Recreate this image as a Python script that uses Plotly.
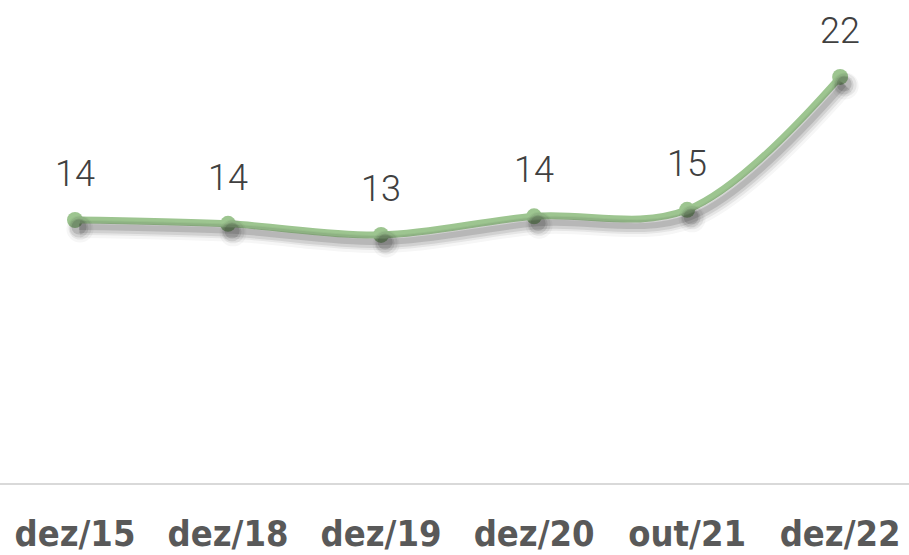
import plotly.graph_objects as go

categories = ["dez/15", "dez/18", "dez/19", "dez/20", "out/21", "dez/22"]
values = [14.25, 14.04, 13.44, 14.45, 14.8, 22.0]
labels = [f"{round(v):d}" for v in values]

GREEN = "#9dc590"
x_range = [-0.49, 5.45]
y_range = [0, 26.17]
px_x = 909 / (x_range[1] - x_range[0])
px_y = 483 / (y_range[1] - y_range[0])

fig = go.Figure()

# soft shadow layers (same data drawn on slightly shifted overlay axes)
shadow_layers = [(5, 9, 18, 0.04), (5, 8, 14, 0.07), (4, 8, 10, 0.10), (4, 7, 6, 0.14)]
for i, (dx, dy, w, op) in enumerate(shadow_layers):
    ax = i + 2
    fig.add_trace(go.Scatter(
        x=list(range(len(categories))), y=values, mode="lines+markers",
        line=dict(color=f"rgba(30,30,30,{op})", width=w, shape="spline", smoothing=1),
        marker=dict(size=w + 9, color=f"rgba(30,30,30,{op})"),
        xaxis=f"x{ax}", yaxis=f"y{ax}", hoverinfo="skip", showlegend=False))
    fig.update_layout(**{
        f"xaxis{ax}": dict(overlaying="x", range=[x_range[0] - dx / px_x, x_range[1] - dx / px_x],
                           visible=False),
        f"yaxis{ax}": dict(overlaying="y", range=[y_range[0] + dy / px_y, y_range[1] + dy / px_y],
                           visible=False),
    })

fig.add_trace(go.Scatter(
    x=list(range(len(categories))), y=values, mode="lines+markers",
    line=dict(color=GREEN, width=7, shape="spline", smoothing=1),
    marker=dict(size=16, color=GREEN),
    showlegend=False))

for i, (v, t) in enumerate(zip(values, labels)):
    fig.add_annotation(x=i, y=v, text=t, showarrow=False, yshift=46,
                       xanchor="center", yanchor="middle",
                       font=dict(family="Roboto, sans-serif", size=36, color="#404040", weight=300))

fig.update_layout(
    width=909, height=555,
    margin=dict(l=0, r=0, t=0, b=72),
    paper_bgcolor="white", plot_bgcolor="white",
    xaxis=dict(range=x_range, tickmode="array", tickvals=list(range(len(categories))),
               ticktext=categories, showgrid=False, zeroline=False, automargin=False,
               showline=True, linecolor="#d9d9d9", linewidth=2,
               ticks="outside", ticklen=18, tickcolor="rgba(0,0,0,0)",
               tickfont=dict(family="DejaVu Sans Condensed, DejaVu Sans, sans-serif",
                             size=36, color="#595959", weight="bold")),
    yaxis=dict(range=y_range, visible=False, showgrid=False, zeroline=False, automargin=False),
)

fig.write_html("out.html", config={"displayModeBar": False},
               post_script="document.body.style.margin='0';document.body.style.overflow='hidden';")
